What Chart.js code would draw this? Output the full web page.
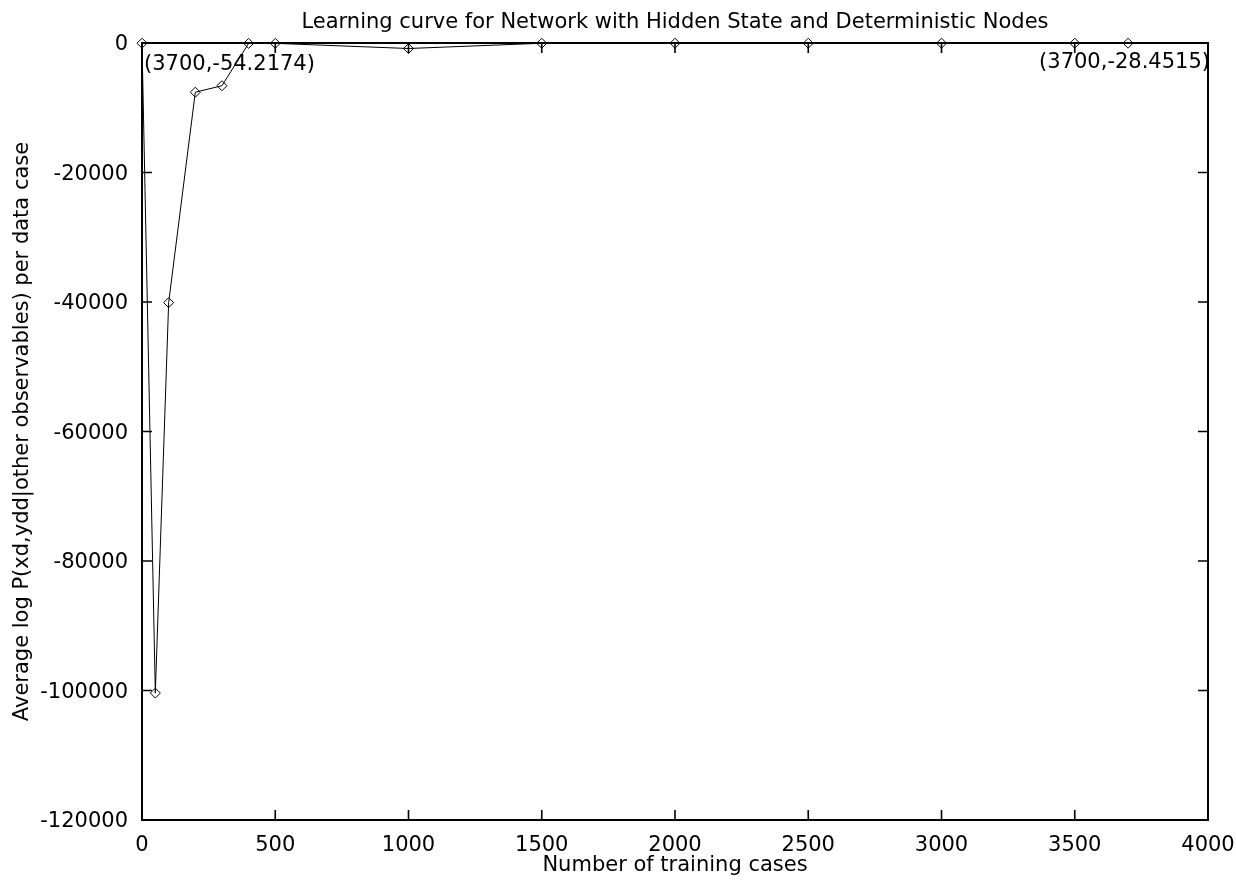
<!DOCTYPE html>
<html>
<head>
<meta charset="utf-8">
<script src="https://cdn.jsdelivr.net/npm/chart.js@4"></script>
<style>
  html, body { margin: 0; padding: 0; background: #fff; }
  #wrap { width: 1236px; height: 882px; }
</style>
</head>
<body>
<div id="wrap"><canvas id="curveChart"></canvas></div>
<script>
// ---- data ----
const trainingCases = [0, 50, 100, 200, 300, 400, 500, 1000, 1500, 2000, 2500, 3000, 3500, 3700];
const avgLogProb    = [-30, -100400, -40100, -7600, -6600, -60, -55, -850, -40, -35, -32, -30, -29, -28.45];
const xTicks = [0, 500, 1000, 1500, 2000, 2500, 3000, 3500, 4000];
const yTicks = [-120000, -100000, -80000, -60000, -40000, -20000, 0];
const cornerLabels = ['(3700,-54.2174)', '(3700,-28.4515)'];
const chartTitle = 'Learning curve for Network with Hidden State and Deterministic Nodes';

const FONT = '"DejaVu Sans", Verdana, sans-serif';
const FSIZE = 21;

// gnuplot look: boxed frame, inward ticks on all four sides, title + corner labels
const gnuplotFrame = {
  id: 'gnuplotFrame',
  beforeDatasetsDraw(chart) {
    const { ctx, chartArea: a, scales } = chart;
    ctx.save();
    ctx.strokeStyle = '#000';
    ctx.lineWidth = 2;
    ctx.strokeRect(a.left, a.top, a.right - a.left, a.bottom - a.top);
    ctx.lineWidth = 1.6;
    ctx.beginPath();
    scales.x.ticks.forEach(t => {
      const px = scales.x.getPixelForValue(t.value);
      ctx.moveTo(px, a.bottom); ctx.lineTo(px, a.bottom - 10);
      ctx.moveTo(px, a.top);    ctx.lineTo(px, a.top + 10);
    });
    scales.y.ticks.forEach(t => {
      const py = scales.y.getPixelForValue(t.value);
      ctx.moveTo(a.left, py);  ctx.lineTo(a.left + 10, py);
      ctx.moveTo(a.right, py); ctx.lineTo(a.right - 10, py);
    });
    ctx.stroke();
    ctx.restore();
  },
  afterDraw(chart) {
    const { ctx, chartArea: a } = chart;
    ctx.save();
    ctx.fillStyle = '#000';
    ctx.font = FSIZE + 'px ' + FONT;
    ctx.textBaseline = 'alphabetic';
    ctx.textAlign = 'center';
    ctx.fillText(chartTitle, (a.left + a.right) / 2, 28);
    ctx.textAlign = 'left';
    ctx.fillText(cornerLabels[0], a.left + 2, 70);
    ctx.textAlign = 'right';
    ctx.fillText(cornerLabels[1], a.right + 2, 68);
    ctx.restore();
  }
};

new Chart(document.getElementById('curveChart'), {
  type: 'line',
  data: {
    datasets: [{
      data: trainingCases.map((x, i) => ({ x: x, y: avgLogProb[i] })),
      borderColor: '#000',
      borderWidth: 1,
      pointStyle: 'rectRot',
      pointRadius: 5,
      pointBorderWidth: 1,
      pointBorderColor: '#000',
      pointBackgroundColor: 'rgba(0,0,0,0)',
      tension: 0,
      clip: false
    }]
  },
  options: {
    responsive: true,
    maintainAspectRatio: false,
    animation: false,
    layout: { padding: { top: 43, right: 28, left: 0, bottom: 0 } },
    plugins: {
      legend: { display: false },
      tooltip: { enabled: false },
      title: { display: false }
    },
    scales: {
      x: {
        type: 'linear',
        min: 0, max: 4000,
        afterBuildTicks: s => { s.ticks = xTicks.map(v => ({ value: v })); },
        afterFit: s => { s.height = 62; s.paddingLeft = 0; s.paddingRight = 0; },
        grid: { display: false, drawTicks: false },
        border: { display: false },
        ticks: {
          color: '#000', padding: 13,
          font: { family: FONT, size: FSIZE },
          maxRotation: 0, minRotation: 0,
          callback: v => String(v)
        },
        title: {
          display: true, text: 'Number of training cases', color: '#000',
          font: { family: FONT, size: FSIZE }, padding: { top: 4, bottom: 4 }
        }
      },
      y: {
        type: 'linear',
        min: -120000, max: 0,
        afterBuildTicks: s => { s.ticks = yTicks.map(v => ({ value: v })); },
        afterFit: s => { s.width = 142; s.paddingTop = 0; s.paddingBottom = 0; },
        grid: { display: false, drawTicks: false },
        border: { display: false },
        ticks: {
          color: '#000', padding: 14, labelOffset: 2,
          font: { family: FONT, size: FSIZE },
          callback: v => String(v)
        },
        title: {
          display: true, text: 'Average log P(xd,ydd|other observables) per data case', color: '#000',
          font: { family: FONT, size: FSIZE }, padding: { top: 10, bottom: 4 }
        }
      }
    }
  },
  plugins: [gnuplotFrame]
});
</script>
</body>
</html>
